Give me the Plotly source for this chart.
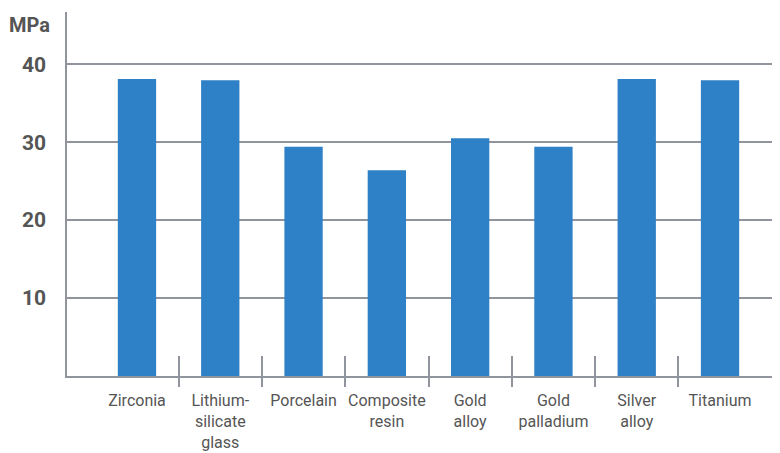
import plotly.graph_objects as go

categories = ["Zirconia", "Lithium-<br>silicate<br>glass", "Porcelain", "Composite<br>resin",
              "Gold<br>alloy", "Gold<br>palladium", "Silver<br>alloy", "Titanium"]
values = [38.1, 37.95, 29.4, 26.4, 30.5, 29.4, 38.1, 37.95]
y_ticks = [10, 20, 30, 40]
y_unit = "MPa"

idx = list(range(len(categories)))
bounds = [i + 0.5 for i in idx[:-1]]
xr = [-0.84, len(categories) - 1 + 0.72]

FONT = "Roboto, Arial, sans-serif"
TXT = "#555555"
GRID = "#8f949d"
BAR = "#2e81c6"

fig = go.Figure()
fig.add_trace(go.Bar(x=idx, y=values, width=0.46, marker=dict(color=BAR, line=dict(width=0)),
                     hoverinfo="skip", showlegend=False))
# invisible traces to anchor the tick-mark axes
fig.add_trace(go.Scatter(x=[bounds[0]], y=[0], xaxis="x2", mode="markers",
                         marker=dict(opacity=0), showlegend=False, hoverinfo="skip"))
fig.add_trace(go.Scatter(x=[bounds[0]], y=[0], xaxis="x3", mode="markers",
                         marker=dict(opacity=0), showlegend=False, hoverinfo="skip"))

# page body has an ~8px default margin, so the figure is shrunk to compensate
fig.update_layout(
    width=772, height=445,
    margin=dict(l=59, r=0, t=4, b=77),
    paper_bgcolor="white", plot_bgcolor="white",
    xaxis=dict(range=xr, tickvals=idx, ticktext=categories, ticks="", automargin=False,
               showline=True, linecolor=GRID, linewidth=1.5, showgrid=False, zeroline=False,
               tickfont=dict(family=FONT, size=16, color=TXT), ticklabelstandoff=9,
               fixedrange=True),
    xaxis2=dict(range=xr, overlaying="x", tickvals=bounds, ticks="outside", ticklen=10,
                tickcolor=GRID, tickwidth=1.5, showticklabels=False, showgrid=False,
                zeroline=False, showline=False, side="bottom", anchor="y", automargin=False),
    xaxis3=dict(range=xr, overlaying="x", tickvals=bounds, ticks="inside", ticklen=20,
                tickcolor=GRID, tickwidth=1.5, showticklabels=False, showgrid=False,
                zeroline=False, showline=False, side="bottom", anchor="y", automargin=False),
    yaxis=dict(range=[0, 46.7], tickvals=y_ticks, ticks="", showgrid=True, gridcolor=GRID,
               gridwidth=1.5, showline=True, linecolor=GRID, linewidth=1.5, zeroline=False,
               tickfont=dict(family=FONT, size=21, color=TXT, weight="bold"),
               ticklabelstandoff=15, automargin=False, fixedrange=True),
    annotations=[dict(text="<b>" + y_unit + "</b>", xref="paper", yref="y", x=0, y=45.0,
                      xanchor="right", yanchor="middle", xshift=-15, showarrow=False,
                      font=dict(family=FONT, size=20, color=TXT))],
)

fig.write_html("out.html")
